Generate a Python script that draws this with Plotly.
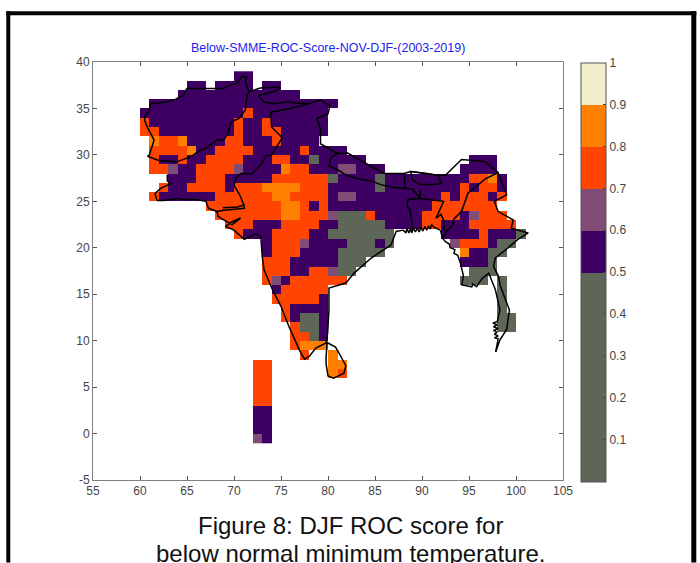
import numpy as np
import plotly.graph_objects as go

W, H = 700, 563
FONT = 'Liberation Sans, Arial, sans-serif'

# ── ROC score classes, one value per class ──
G, P, L, R, A = 0.4, 0.55, 0.65, 0.75, 0.85

# score cells by latitude: (first lon, last lon, score)
ROWS = {
    38: [(70, 71, P)],
    37: [(65, 66, P), (68, 71, P), (73, 74, P)],
    36: [(64, 76, P)],
    35: [(61, 80, P)],
    34: [(60, 70, P), (71, 71, R), (72, 79, P)],
    33: [(60, 60, R), (61, 69, P), (70, 70, R), (71, 72, P), (73, 73, R), (74, 79, P)],
    32: [(60, 61, R), (62, 69, P), (70, 70, R), (71, 72, P), (73, 74, R), (75, 79, P)],
    31: [(61, 61, A), (62, 63, R), (64, 64, A), (65, 68, P), (69, 70, R), (71, 73, P),
         (74, 74, R), (75, 78, P)],
    30: [(61, 64, R), (65, 65, A), (66, 67, P), (68, 71, R), (72, 76, P), (77, 77, R), (78, 81, P)],
    29: [(61, 61, R), (62, 63, P), (64, 64, R), (65, 66, P), (67, 70, R), (71, 73, P), (74, 75, R),
         (76, 77, P), (78, 78, G), (79, 83, P), (95, 97, P)],
    28: [(61, 62, R), (63, 63, L), (64, 65, P), (66, 69, R), (70, 70, L), (71, 74, P), (75, 75, A),
         (76, 77, R), (78, 80, P), (81, 82, L), (83, 85, P), (94, 97, P)],
    27: [(63, 65, P), (66, 68, R), (69, 73, P), (74, 79, R), (80, 80, G), (81, 84, P), (85, 85, G),
         (86, 94, P), (95, 96, R), (97, 97, A), (98, 98, P)],
    26: [(62, 62, R), (63, 64, P), (65, 68, R), (69, 69, P), (70, 72, R), (73, 76, A), (77, 79, R),
         (80, 84, P), (85, 85, G), (86, 93, P), (94, 94, R), (95, 95, P), (96, 97, R), (98, 98, P)],
    25: [(61, 61, R), (62, 67, P), (68, 73, R), (74, 75, A), (76, 79, R), (80, 80, P), (81, 82, L),
         (83, 91, P), (92, 92, R), (93, 93, P), (94, 96, R), (97, 97, P), (98, 98, R)],
    24: [(67, 74, R), (75, 76, A), (77, 77, R), (78, 78, P), (79, 79, R), (80, 90, P), (91, 97, R)],
    23: [(68, 74, R), (75, 76, A), (77, 79, R), (80, 80, L), (81, 83, G), (84, 84, R), (85, 89, P),
         (90, 93, R), (94, 94, P), (95, 95, L), (96, 98, R)],
    22: [(69, 71, R), (72, 74, P), (75, 78, R), (79, 80, P), (81, 85, G), (86, 89, P), (90, 91, R),
         (92, 94, P), (95, 99, R)],
    21: [(70, 70, R), (71, 73, P), (74, 77, R), (78, 79, P), (80, 86, G), (92, 95, P), (96, 96, R),
         (97, 99, P), (100, 100, G)],
    20: [(73, 73, P), (74, 76, R), (77, 77, L), (78, 81, P), (82, 84, G), (85, 85, P), (86, 86, G),
         (93, 93, L), (94, 96, R), (97, 97, P), (98, 99, G)],
    19: [(73, 73, P), (74, 76, R), (77, 80, P), (81, 85, G), (94, 94, A), (95, 96, P), (97, 98, G)],
    18: [(73, 75, R), (76, 80, P), (81, 83, G), (94, 96, P), (97, 97, G)],
    17: [(73, 75, R), (76, 77, P), (78, 79, R), (80, 80, L), (81, 82, G), (95, 97, G)],
    16: [(73, 73, R), (74, 74, L), (75, 75, P), (76, 81, R), (94, 96, G), (98, 98, G)],
    15: [(74, 74, P), (75, 79, R), (98, 98, G)],
    14: [(74, 78, R), (79, 79, P), (98, 98, G)],
    13: [(75, 75, R), (76, 79, P), (98, 98, G)],
    12: [(75, 75, R), (76, 76, P), (77, 78, G), (79, 79, P), (98, 99, G)],
    11: [(76, 76, R), (77, 78, G), (79, 79, P), (98, 99, G)],
    10: [(76, 77, R), (78, 78, G), (79, 79, P)],
    9: [(76, 76, R), (77, 79, A)],
    8: [(77, 77, R), (80, 80, A)],
    7: [(72, 73, R), (80, 81, A)],
    6: [(72, 73, R), (80, 80, A), (81, 81, R)],
    5: [(72, 73, R)],
    4: [(72, 73, R)],
    3: [(72, 73, R)],
    2: [(72, 73, P)],
    1: [(72, 73, P)],
    0: [(72, 73, P)],
    -1: [(72, 72, L), (73, 73, P)],
}

# ── Outlines, (lon, lat) ──
AFG_NORTH = [(60.8, 29.85), (61, 30), (61.5, 31.6), (60.85, 32.85), (60.5, 33.7), (60.5, 34.1),
             (61, 34.8), (61.1, 35.5), (62.9, 35.7), (63.8, 36), (64.6, 36.4), (65, 37.15),
             (67.2, 37.15), (68.9, 37.15), (69.5, 37.5), (70.35, 37.7), (70.8, 38.4), (71.4, 38.4),
             (71.2, 37.95), (71.6, 36.8), (72.8, 37.2), (74.9, 37.3), (74.5, 36.9), (72.6, 36.4)]
AFG_PAK = [(71.6, 36.8), (71.4, 36.4), (71.2, 34.8), (70.5, 33.9), (70, 33.7), (69.6, 33.4), (69.4, 32.4),
           (68.9, 31.6), (68.2, 31.6), (67, 30.7), (66.4, 30.5), (65.4, 29.8), (63.9, 29.25),
           (62, 29.4), (60.8, 29.85)]
PAK_IRAN = [(62.9, 27.9), (62.9, 27.2), (63.3, 26.9), (62.2, 26.4), (61.6, 25.85), (61.8, 25.1)]
PAK_COAST = [(61.8, 25.1), (62.5, 25.1), (64, 25.3), (64.7, 25.2), (66, 25.2), (66.7, 25.1),
             (67, 25), (67.3, 24.25), (68.2, 23.9)]
RANN = [(68.2, 23.9), (68.9, 24.05), (71.1, 24.25), (71.06, 24.6), (70.35, 24.4), (68.8, 24.3)]
PAK_INDIA = [(71.06, 24.6), (70.6, 25.7), (70, 26.75), (70.2, 27.5), (70.7, 28), (71.9, 27.95),
             (72.9, 29), (73.4, 29.9), (74, 30), (74.6, 31), (75.1, 31.8), (74.9, 32.1), (74, 33),
             (73.9, 34.6), (76, 35), (77.9, 35.5)]
KASHMIR_MID = [(72.6, 36.4), (73.2, 35.7), (74.2, 35.5), (75.5, 35.7), (77.9, 35.5)]
KASHMIR_EAST = [(77.9, 35.5), (79.2, 35.9), (80.2, 35.3), (80, 34.4), (78.8, 33.9), (79.2, 32.8),
                (79.2, 31.2), (81, 30.15)]
NEPAL = [(81, 30.15), (82.1, 30.2), (84, 29.1), (86, 28), (88.1, 28), (88.2, 26.4), (87, 26.5),
         (85.6, 26.8), (84.6, 27.2), (83.3, 27.4), (82, 27.8), (81, 28.4), (80.1, 28.8), (80.3, 29.7),
         (81, 30.15)]
BHUTAN = [(88.8, 28.2), (89, 27.3), (89.8, 26.8), (91, 26.8), (92.1, 26.9), (91.7, 27.8), (90.5, 28),
          (89.5, 28.1), (88.8, 28.2)]
NORTH_EAST = [(88.1, 28), (88.8, 28.2), (91.7, 27.8), (92.5, 27.8), (94.2, 29.5), (96.7, 29.3), (98.1, 28.1),
              (99, 25.7), (97.7, 25), (98.1, 23.9), (99.7, 23), (99.5, 22.1), (101.3, 21.6), (100.2, 20.9),
              (99.1, 19.95), (97.8, 18.9), (97.6, 18), (98.15, 16.9), (98.3, 16), (99.3, 13.3),
              (99, 11.2), (98.3, 10.1), (97.84, 8.8)]
INDIA_BURMA = [(98.1, 28.1), (96.7, 27.4), (96, 26.8), (94.9, 25.9), (94.2, 23.9), (93.4, 23.1),
               (93.2, 22.3), (92.7, 21.9), (92.2, 21)]
BANGLADESH = [(88.2, 26.4), (89, 26.3), (89.8, 25.3), (88.5, 25.2), (88.4, 24.4), (88.7, 24.2),
              (88.9, 22.9), (89, 21.9)]
BANGLADESH_EAST = [(89.8, 26.2), (89.8, 25.3), (92.3, 25), (92, 24.3), (91.5, 23.2), (92, 23.6),
                   (92.3, 23), (92.4, 21.8)]
DELTA = [(88, 21.9), (88.3, 21.6), (88.4, 22.1), (88.6, 21.6), (88.8, 22.1), (88.9, 21.6), (89.1, 22.1),
         (89.3, 21.7), (89.5, 22.1), (89.7, 21.7), (89.9, 22.2), (90.1, 21.8), (90.3, 22.3), (90.5, 21.9),
         (90.7, 22.3), (90.9, 22), (91, 22.5), (91.3, 22.2), (91.95, 21.9)]
BURMA_COAST = [(91.95, 21.9), (92.2, 21), (92.5, 20.66), (92.9, 20.4), (93, 20), (93.5, 19.8),
               (93.4, 19.4), (93.8, 19.2), (94.1, 18.3), (94.4, 17), (94.25, 16), (95.3, 15.8),
               (95.4, 16.1), (95.8, 15.8), (96.4, 16.7), (97.1, 17.25), (97.8, 15.5), (98.3, 13.3),
               (98, 12.05), (97.55, 11.9), (98, 11.7), (97.6, 11.5), (98.1, 11.3), (97.6, 11.1),
               (98, 10.9), (97.7, 10.7), (98.1, 10.5), (97.7, 10.3), (98.1, 10.2), (97.84, 8.8)]
INDIA_COAST = [(68.2, 23.9), (68.3, 23.4), (68.9, 23), (69.8, 22.5), (70.7, 23.2), (69.8, 22.8),
               (69.1, 22.3), (70, 21.9), (71.1, 20.9), (72.3, 21.5), (72.85, 21.2), (73, 19.1),
               (73.2, 17.6), (74.1, 15.5), (75, 13.7), (75.9, 11.4), (77, 8.9), (77.5, 8), (78, 8.3),
               (78.7, 9.2), (79.8, 9.75), (79.96, 10.8), (80.1, 13.3), (80.1, 15.66), (81.9, 16.2),
               (82.8, 17.3), (84.6, 18.9), (86.7, 20.3), (87.25, 21.75), (88, 21.9)]
SRI_LANKA = [(79.9, 9.8), (80.8, 9.3), (81.2, 8.6), (81.9, 7.3), (81.7, 6.5), (80.6, 5.95), (80, 6.2),
             (79.8, 7.5), (79.8, 8.3), (79.9, 9.8)]

OUTLINES = [AFG_NORTH, AFG_PAK, PAK_IRAN, PAK_COAST, RANN, PAK_INDIA, KASHMIR_MID, KASHMIR_EAST, NEPAL,
            BHUTAN, NORTH_EAST, INDIA_BURMA, BANGLADESH, BANGLADESH_EAST, DELTA, BURMA_COAST,
            INDIA_COAST, SRI_LANKA]

X_TICKS = [55, 60, 65, 70, 75, 80, 85, 90, 95, 100, 105]
Y_TICKS = [-5, 0, 5, 10, 15, 20, 25, 30, 35, 40]
Y_LABELS = ['-5', '0', '5', '10', '15', '20', '25', '30', '35', '40']
CB_TICKS = [0.1, 0.2, 0.3, 0.4, 0.5, 0.6, 0.7, 0.8, 0.9, 1]
CB_LABELS = ['0.1', '0.2', '0.3', '0.4', '0.5', '0.6', '0.7', '0.8', '0.9', '1']

TITLE = 'Below-SMME-ROC-Score-NOV-DJF-(2003-2019)'
CAPTION = ['Figure 8: DJF ROC score for', 'below normal minimum temperature.']

# discrete colour bar: step edges and colours
BANDS = [(0, 0.5, '#5e6658'), (0.5, 0.6, '#3d0062'), (0.6, 0.7, '#7f4d75'),
         (0.7, 0.8, '#ff4500'), (0.8, 0.9, '#ff8000'), (0.9, 1, '#f2eecb')]

# plot box in pixels
L_PX, R_PX, T_PX, B_PX = 92.7, 562.7, 61.7, 480.3


def _px(x, y):
    """Pixel position to paper coordinates."""
    return (x - L_PX) / (R_PX - L_PX), (B_PX - y) / (B_PX - T_PX)


lons = np.arange(60, 103)
lats = np.arange(-1, 40)
z = np.full((len(lats) - 1, len(lons) - 1), np.nan)
for lat, runs in ROWS.items():
    for first, last, val in runs:
        z[lat + 1, first - 60:last - 60 + 1] = val

scale = []
for lo, hi, col in BANDS:
    scale += [[lo, col], [hi, col]]

fig = go.Figure()
fig.add_trace(go.Heatmap(
    x=lons, y=lats, z=z, zmin=0, zmax=1, colorscale=scale, hoverongaps=False,
    colorbar=dict(
        x=_px(580.7, 0)[0], xanchor='left', y=_px(0, 481.9)[1], yanchor='bottom',
        thickness=25, thicknessmode='pixels', len=419, lenmode='pixels',
        xpad=0, ypad=0, outlinecolor='#555', outlinewidth=1,
        tickvals=CB_TICKS, ticktext=CB_LABELS, ticks='inside', ticklen=3, tickcolor='#444',
        tickfont=dict(family=FONT, size=12, color='#444'),
    ),
))

line_x, line_y = [], []
for pts in OUTLINES:
    line_x += [p[0] for p in pts] + [None]
    line_y += [p[1] for p in pts] + [None]
fig.add_trace(go.Scatter(x=line_x, y=line_y, mode='lines', showlegend=False, hoverinfo='skip',
                         line=dict(color='black', width=1.5)))

axis = dict(showgrid=False, zeroline=False, showline=True, linecolor='#808080', linewidth=1,
            mirror='ticks', ticks='inside', ticklen=4, tickcolor='#555',
            tickfont=dict(family=FONT, size=12, color='#444'))
fig.update_layout(
    width=W, height=H, paper_bgcolor='white', plot_bgcolor='white', showlegend=False,
    margin=dict(l=L_PX, r=W - R_PX, t=T_PX, b=H - B_PX, autoexpand=False),
    xaxis=dict(range=[55, 105], tickvals=X_TICKS, **axis),
    yaxis=dict(range=[-5, 40], tickvals=Y_TICKS, ticktext=Y_LABELS, **axis),
)

# panel frame (cut off by the bottom of the picture)
for x0, y0, x1, y1 in [(6, 11, 10, H), (6, 11, 696, 15), (691, 11, 696, H)]:
    (a0, b0), (a1, b1) = _px(x0, y0), _px(x1, y1)
    fig.add_shape(type='rect', xref='paper', yref='paper', x0=a0, y0=b0, x1=a1, y1=b1,
                  fillcolor='black', line_width=0)

tx, ty = _px(328, 48)
fig.add_annotation(text=TITLE, x=tx, y=ty, xref='paper', yref='paper', showarrow=False,
                   xanchor='center', yanchor='middle',
                   font=dict(family=FONT, size=12.5, color='#2222ee'))
for text, py in zip(CAPTION, [526, 554]):
    cx, cy = _px(350, py)
    fig.add_annotation(text=text, x=cx, y=cy, xref='paper', yref='paper', showarrow=False,
                       xanchor='center', yanchor='middle',
                       font=dict(family=FONT, size=24, color='#111'))

fig.write_html("out.html", post_script="document.body.style.margin='0';",
               config={'displayModeBar': False})
